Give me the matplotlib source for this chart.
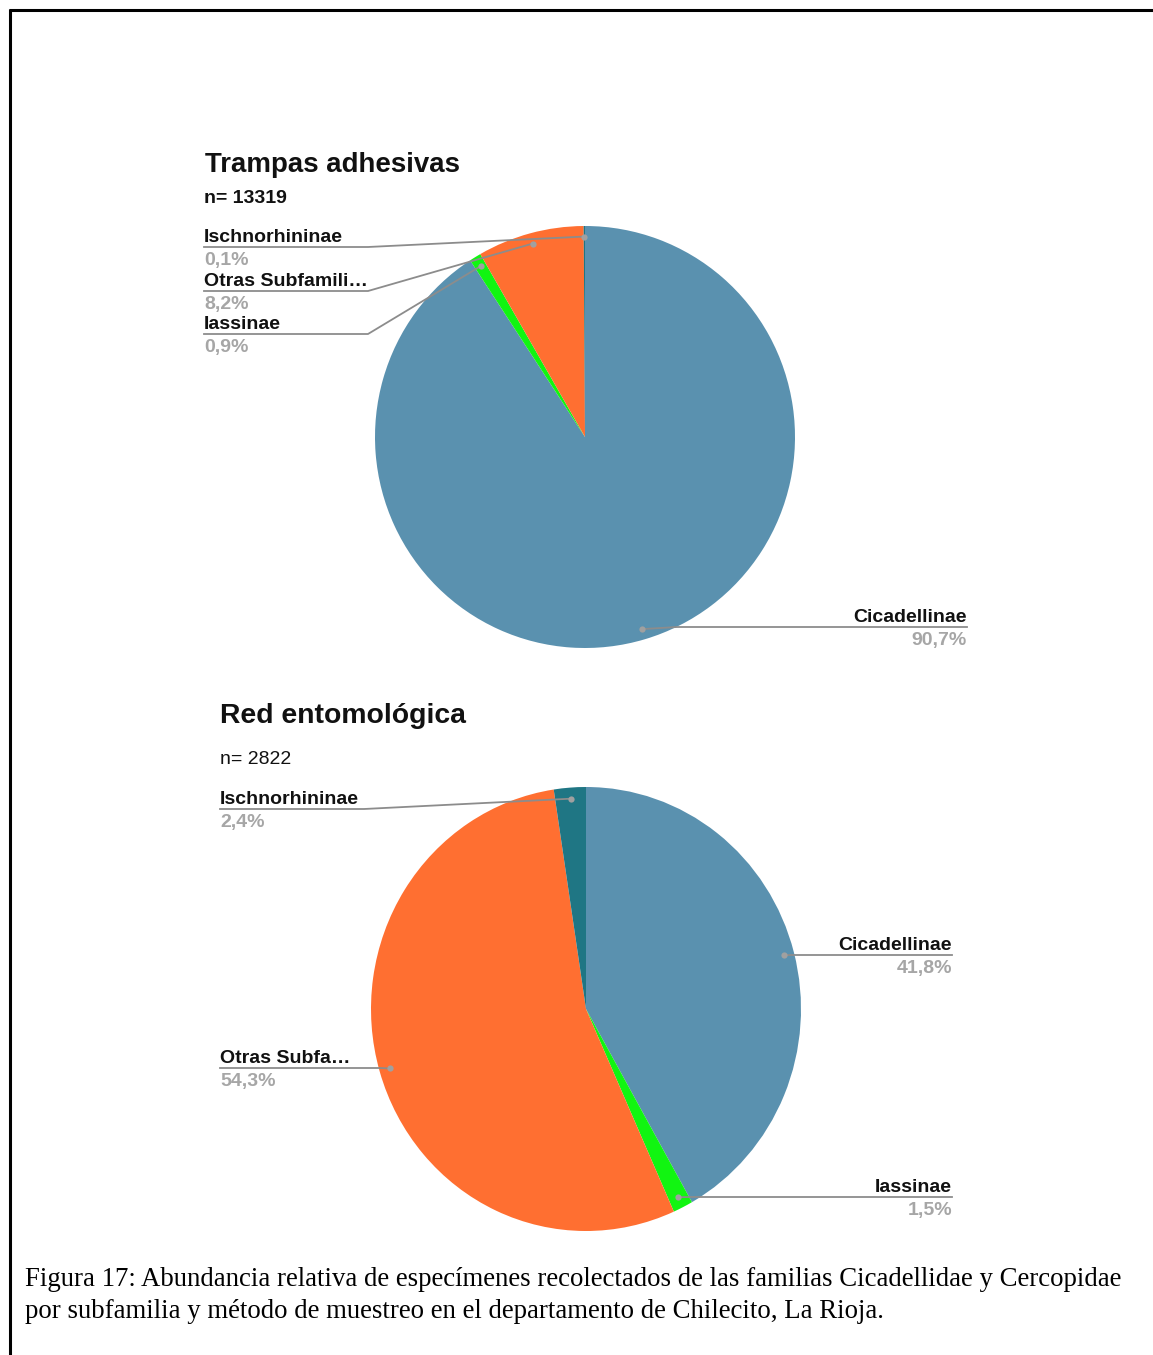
import numpy as np
import matplotlib
matplotlib.use('Agg')
import matplotlib.pyplot as plt

# Data
categories = ['Cicadellinae', 'Iassinae', 'Otras Subfamilias', 'Ischnorhininae']
trampas_pct = [90.7, 0.9, 8.2, 0.1]
red_pct = [41.8, 1.5, 54.3, 2.4]
trampas_n = 13319
red_n = 2822
colors = ['#5A91AF', '#11F511', '#FF6F31', '#1F7684']

W, H = 1153, 1355
fig = plt.figure(figsize=(W / 100, H / 100), dpi=100)
fig.patch.set_facecolor('white')

# overlay axes in pixel coordinates for texts and leader lines
ov = fig.add_axes([0, 0, 1, 1], zorder=5)
ov.set_xlim(0, W)
ov.set_ylim(H, 0)
ov.axis('off')
ov.patch.set_alpha(0)

# frame of the page (top and left only)
ov.plot([9, W], [9.5, 9.5], color='black', lw=2.2, solid_capstyle='butt')
ov.plot([9.5, 9.5], [9, H], color='black', lw=2.2, solid_capstyle='butt')

FONT = 'Liberation Sans'
GRAY = '#A6A6A6'
LINE = '#8C8C8C'


def draw_pie(cx, cy, rx, ry, values):
    ax = fig.add_axes([(cx - rx) / W, 1 - (cy + ry) / H, 2 * rx / W, 2 * ry / H])
    wedges, _ = ax.pie(values, colors=colors, startangle=90, counterclock=False,
                       radius=1, wedgeprops=dict(linewidth=0))
    ax.set_aspect('auto')
    ax.set_xlim(-1, 1)
    ax.set_ylim(-1, 1)
    ax.axis('off')
    anchors = []
    for w in wedges:
        mid = np.deg2rad((w.theta1 + w.theta2) / 2)
        anchors.append((cx + 0.95 * rx * np.cos(mid), cy - 0.95 * ry * np.sin(mid)))
    return anchors


def label(name, pct, anchor, y_line, x_text, x_elbow, side):
    ax_, ay_ = anchor
    if side == 'left':
        ov.plot([x_text, x_elbow, ax_], [y_line, y_line, ay_], color=LINE, lw=1.3)
        ha = 'left'
    else:
        ov.plot([ax_, x_elbow, x_text], [ay_, y_line, y_line], color=LINE, lw=1.3)
        ha = 'right'
    ov.plot([ax_], [ay_], 'o', color='#A0A0A0', ms=4.5, mec='none')
    ov.text(x_text, y_line - 5, name, ha=ha, va='baseline', fontsize=14,
            fontweight='bold', family=FONT, color='#111111')
    ov.text(x_text, y_line + 18, pct, ha=ha, va='baseline', fontsize=14,
            fontweight='bold', family=FONT, color=GRAY)


def fmt(v):
    return ('%.1f' % v).replace('.', ',') + '%'


# Pie 1 - Trampas adhesivas
a1 = draw_pie(585, 437, 210, 211, trampas_pct)
ov.text(205, 172, 'Trampas adhesivas', fontsize=19.9, fontweight='bold', family=FONT,
        va='baseline', color='#111111')
ov.text(204, 203, 'n= %d' % trampas_n, fontsize=14, fontweight='bold', family=FONT,
        va='baseline', color='#111111')
label('Ischnorhininae', fmt(trampas_pct[3]), a1[3], 247, 204, 368, 'left')
label('Otras Subfamili…', fmt(trampas_pct[2]), a1[2], 291, 204, 368, 'left')
label(categories[1], fmt(trampas_pct[1]), a1[1], 334, 204, 368, 'left')
label(categories[0], fmt(trampas_pct[0]), a1[0], 627, 967, 677, 'right')

# Pie 2 - Red entomologica
a2 = draw_pie(586, 1009, 215, 222, red_pct)
ov.text(220, 723, 'Red entomológica', fontsize=20.4, fontweight='bold', family=FONT,
        va='baseline', color='#111111')
ov.text(220, 764, 'n= %d' % red_n, fontsize=14, family=FONT,
        va='baseline', color='#111111')
label('Ischnorhininae', fmt(red_pct[3]), a2[3], 809, 220, 364, 'left')
label('Otras Subfa…', fmt(red_pct[2]), a2[2], 1068, 220, 380, 'left')
label(categories[0], fmt(red_pct[0]), a2[0], 955, 952, 790, 'right')
label(categories[1], fmt(red_pct[1]), a2[1], 1197, 952, 690, 'right')

# caption
cap1 = ('Figura 17: Abundancia relativa de especímenes recolectados de las familias '
        'Cicadellidae y Cercopidae')
cap2 = 'por subfamilia y método de muestreo en el departamento de Chilecito, La Rioja.'
ov.text(25, 1286, cap1, fontsize=19.3, family='Liberation Serif', va='baseline')
ov.text(25, 1318, cap2, fontsize=19.3, family='Liberation Serif', va='baseline')

fig.savefig('out.png', dpi=100, facecolor='white')
